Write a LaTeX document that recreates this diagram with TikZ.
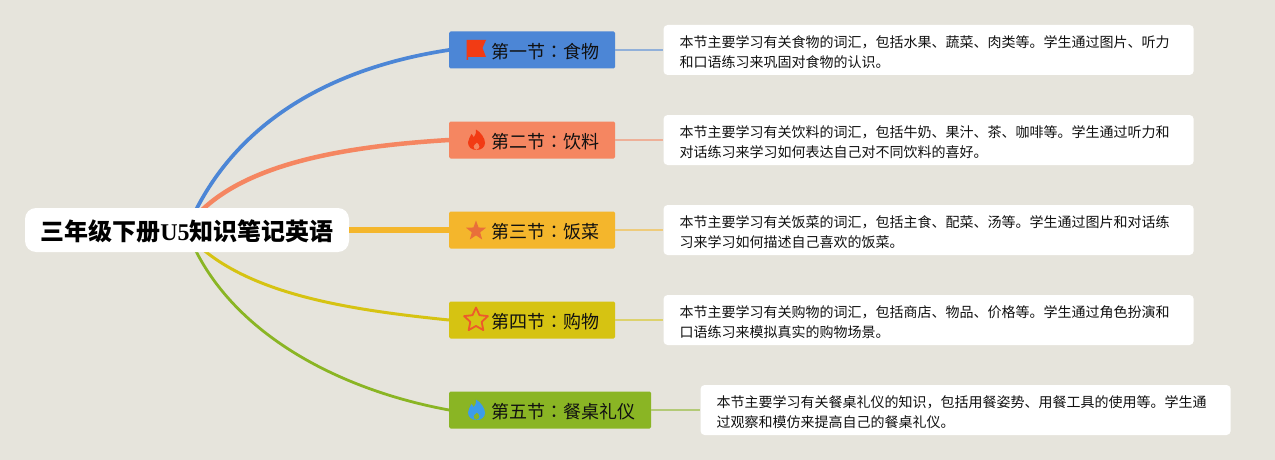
\documentclass[tikz,border=0pt]{standalone}
\usepackage{fontspec}
\usepackage{xcolor}
\usepackage{tikz}
\usetikzlibrary{positioning,shapes.geometric}
\setmainfont{Noto Sans CJK SC}
\newfontfamily\latinfont{Liberation Serif}
\newfontfamily\colonfont{Noto Sans CJK TC}
\definecolor{paper}{HTML}{E6E4DC}
\definecolor{cblue}{HTML}{4C86D6}
\definecolor{corange}{HTML}{F58661}
\definecolor{camber}{HTML}{F4B62C}
\definecolor{colive}{HTML}{D6C312}
\definecolor{cgreen}{HTML}{8AB524}
\definecolor{ink}{HTML}{111111}
\definecolor{hot}{HTML}{F23B14}
\definecolor{cool}{HTML}{3C9CEA}
\definecolor{ember}{HTML}{E96F3A}
\newcommand{\cn}{{\colonfont\symbol{"FF1A}}}
\newcommand{\cm}{\symbol{"FF0C}}
\newcommand{\up}{\rule{0pt}{15.5pt}}
\tikzset{
  root/.style={fill=white, rounded corners=11pt, minimum width=324pt, minimum height=44pt, inner sep=0pt, text height=24pt, text depth=3pt, text=black, font=\fontsize{24}{28}\selectfont\bfseries},
  sect/.style={fill=#1, rounded corners=1.5pt, minimum height=37pt, inner xsep=16pt, inner ysep=0pt, anchor=west, text height=19pt, text depth=2pt, text=ink, font=\fontsize{18}{22}\selectfont},
  desc/.style={fill=white, rounded corners=4pt, text width=498pt, minimum height=50pt, inner xsep=16pt, inner ysep=0pt, align=left, text=ink, font=\fontsize{14}{20}\selectfont},
  limb/.style={draw=#1, line width=3.7pt, line cap=round},
  twig/.style={draw=#1!55!paper, line width=1.6pt},
  flame/.pic={
    \fill[pic actions, even odd rule] (0,10) .. controls (-5,10) and (-8.5,7) .. (-8.5,2.5)
      .. controls (-8.5,-1) and (-6,-3) .. (-5,-6) .. controls (-3.5,-4.5) and (-3,-3.5) .. (-2.8,-2.5)
      .. controls (-1,-5) and (0,-7.5) .. (-0.5,-10.5) .. controls (4,-8) and (8.5,-2) .. (8.5,3)
      .. controls (8.5,7) and (5,10) .. (0,10) -- cycle
      (0,10) .. controls (2.5,9) and (3,7.5) .. (3,6.5) .. controls (3,5) and (1.5,3.5) .. (0.5,2.5)
      .. controls (-1,4) and (-3,5) .. (-3,6.5) .. controls (-3,8) and (-2,9.5) .. (0,10) -- cycle;
  },
}

\begin{document}
\begin{tikzpicture}[x=1pt,y=-1pt]
  \fill[paper] (0,0) rectangle (1275,460);
  \useasboundingbox (0,0) rectangle (1275,460);
  % section boxes with their notes
  \foreach \N/\Y/\C/\G/\T/\D in {
    1/50/cblue/48/{第一节\cn 食物}/{\up 本节主要学习有关食物的词汇\cm 包括水果、蔬菜、肉类等。学生通过图片、听力\\和口语练习来巩固对食物的认识。},
    2/140/corange/48/{第二节\cn 饮料}/{\up 本节主要学习有关饮料的词汇\cm 包括牛奶、果汁、茶、咖啡等。学生通过听力和\\对话练习来学习如何表达自己对不同饮料的喜好。},
    3/230/camber/48/{第三节\cn 饭菜}/{\up 本节主要学习有关饭菜的词汇\cm 包括主食、配菜、汤等。学生通过图片和对话练\\习来学习如何描述自己喜欢的饭菜。},
    4/320/colive/48/{第四节\cn 购物}/{\up 本节主要学习有关购物的词汇\cm 包括商店、物品、价格等。学生通过角色扮演和\\口语练习来模拟真实的购物场景。},
    5/410/cgreen/49/{第五节\cn 餐桌礼仪}/{\up 本节主要学习有关餐桌礼仪的知识\cm 包括用餐姿势、用餐工具的使用等。学生通\\过观察和模仿来提高自己的餐桌礼仪。}}
  {
    \node[sect=\C] (s\N) at (449,\Y) {\hspace{26pt}\T};
    \node[desc, right=\G pt of s\N] (d\N) {\D};
    \draw[twig=\C] (s\N) -- (d\N);
  }
  % branches, they start behind the title
  \coordinate (upa) at (193,216);
  \coordinate (upb) at (200,212);
  \coordinate (dna) at (193,245);
  \coordinate (dnb) at (200,247);
  \draw[limb=cblue] (upa) .. controls (238,122) and (330,68) .. (s1.west);
  \draw[limb=corange, line width=4.5pt] (upb) .. controls (250,162) and (350,146) .. (s2.west);
  \draw[limb=colive, line width=3pt] (dnb) .. controls (255,295) and (350,310) .. (s4.west);
  \draw[limb=cgreen, line width=2.8pt] (dna) .. controls (235,335) and (340,390) .. (s5.west);
  \node[root] (title) at (187,230) {三年级下册{\latinfont U5}知识笔记英语};
  \draw[limb=camber, line width=5.5pt, line cap=butt] (title.east) -- (s3.west);
  % icons
  \fill[hot] (466.5,40) -- (486,40) -- (482.5,48) -- (486,57) -- (468,57) -- (468,60) -- (466.5,60) -- cycle;
  \pic[fill=hot] at (476.5,140) {flame};
  \node[star, star points=5, star point ratio=2.4, fill=ember, minimum size=21pt, inner sep=0pt] (ico3) at (476,231) {};
  \node[star, star points=5, star point ratio=2.1, fill=colive, draw=ember!60!hot, line width=1.8pt, line join=round, minimum size=25pt, inner sep=0pt] (ico4) at (476,320) {};
  \pic[fill=cool] at (476.5,410) {flame};
\end{tikzpicture}
\end{document}
